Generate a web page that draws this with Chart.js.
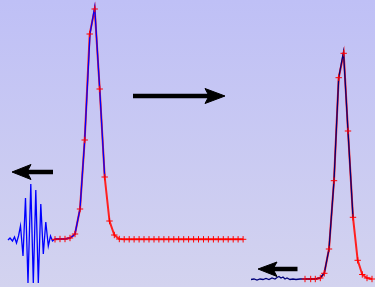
<!DOCTYPE html>
<html>
<head>
    <meta charset="UTF-8">
    <title>Wave packet</title>
    <script src="https://cdn.jsdelivr.net/npm/chart.js"></script>
    <style>
        body { margin: 0; }
        canvas { display: block; }
    </style>
</head>
<body>
    <canvas id="waveChart" width="375" height="287"></canvas>

    <script>
        // left pulse (sampled, red crosses)
        const leftX = [55, 60, 65, 70, 75, 80, 84.7, 89.7, 94.7, 99.7, 104.7, 109.5, 114.3, 119.3, 124.2, 129.2, 134.1,
            139.1, 144, 149, 154, 158.9, 163.9, 168.8, 173.8, 178.7, 183.7, 188.6, 193.6, 198.5, 203.5, 208.4,
            213.4, 218.3, 223.3, 228.2, 233.2, 238.1, 243.1];
        const leftY = [239.3, 239, 239, 238, 234, 209, 140, 34, 9, 89, 177, 221, 235, 239, 239.3, 239.3, 239.3,
            239.3, 239.3, 239.3, 239.3, 239.3, 239.3, 239.3, 239.3, 239.3, 239.3, 239.3, 239.3, 239.3, 239.3, 239.3,
            239.3, 239.3, 239.3, 239.3, 239.3, 239.3, 239.3];

        // left wave packet + pulse (blue)
        const waveX = [8, 10, 12.5, 14.5, 16.5, 18.5, 20.5, 23, 25.5, 28, 30.8, 33.3, 35.8, 38.3, 40.8, 43.3, 45.8,
            48.3, 50.5, 52.5, 55, 60, 65, 70, 73, 75, 80, 84.7, 90, 94.7, 99.7, 104.7];
        const waveY = [240, 238, 241, 237, 243, 236, 226, 256, 198, 283, 184, 283, 190, 283, 204, 254, 222,
            246, 236, 241, 239, 239, 239, 238, 236, 234, 209, 140, 34, 7, 89, 177];

        // right pulse (sampled, red crosses)
        const rightX = [305, 310.7, 315.3, 320.3, 324.3, 329, 334, 338.7, 343.7, 348, 353, 357.7, 362.3, 367, 372];
        const rightY = [279, 279, 279, 278, 273.3, 249, 180.7, 77.7, 53.3, 131, 217.3, 260.3, 274.5, 278, 279];

        // right noisy tail + pulse (navy)
        const noiseX = [251, 254, 257, 260, 263, 266, 269, 272, 275, 277, 279, 281, 283, 285, 287, 290, 293, 296,
            300, 305, 310.7, 315.3, 320.3, 324.3, 329, 334, 338.7, 343.5, 348, 353];
        const noiseY = [279.5, 279, 280, 279, 279.5, 278.5, 279.5, 278, 279, 277.5, 276.5, 278, 277, 279, 278,
            279.5, 279, 279.5, 279, 279, 279, 279, 278, 273, 249, 180.7, 77.7, 52, 131, 217.3];

        // arrows: shaft ends and head outlines
        const arrowShafts = [
            [[27, 172], [53, 172]],
            [[133, 96], [210, 96]],
            [[273, 269], [297.5, 269]]
        ];
        const arrowHeads = [
            [[12, 172], [31, 164.5], [27, 172], [31, 179.5], [12, 172]],
            [[225, 96], [205, 88.5], [209, 96], [205, 103.5], [225, 96]],
            [[258, 269], [277, 262], [273, 269], [277, 276.5], [258, 269]]
        ];

        function pts(xs, ys) {
            return xs.map((x, i) => ({ x: x, y: ys[i] }));
        }

        const background = {
            id: "background",
            beforeDraw(chart) {
                const c = chart.ctx;
                const g = c.createLinearGradient(0, 0, 0, chart.height);
                g.addColorStop(0, "#bfc0f6");
                g.addColorStop(1, "#d3d3ef");
                c.save();
                c.fillStyle = g;
                c.fillRect(0, 0, chart.width, chart.height);
                c.restore();
            }
        };

        const datasets = [
            { data: pts(leftX, leftY), borderColor: "#ff2020", borderWidth: 2, showLine: true, pointRadius: 0, order: 5 },
            { data: pts(rightX, rightY), borderColor: "#ff2020", borderWidth: 2, showLine: true, pointRadius: 0, order: 5 },
            { data: pts(waveX, waveY), borderColor: "#0000ff", borderWidth: 1.3, showLine: true, pointRadius: 0, order: 4 },
            { data: pts(noiseX, noiseY), borderColor: "#00007a", borderWidth: 1.3, showLine: true, pointRadius: 0, order: 4 },
            { data: pts(leftX, leftY), showLine: false, pointStyle: "cross", pointRadius: 3.2, borderColor: "#ff0000", borderWidth: 1, order: 3 },
            { data: pts(rightX, rightY), showLine: false, pointStyle: "cross", pointRadius: 3.2, borderColor: "#ff0000", borderWidth: 1, order: 3 }
        ];

        arrowShafts.forEach(s => {
            datasets.push({ data: s.map(p => ({ x: p[0], y: p[1] })), borderColor: "#000", borderWidth: 4.5,
                showLine: true, pointRadius: 0, order: 1 });
        });
        arrowHeads.forEach(h => {
            datasets.push({ data: h.map(p => ({ x: p[0], y: p[1] })), borderColor: "#000", borderWidth: 1,
                backgroundColor: "#000", fill: "shape", showLine: true, pointRadius: 0, order: 1 });
        });

        const ctx = document.getElementById("waveChart").getContext("2d");
        new Chart(ctx, {
            type: "scatter",
            data: { datasets: datasets },
            options: {
                responsive: false,
                animation: false,
                layout: { padding: 0, autoPadding: false },
                plugins: { legend: { display: false }, tooltip: { enabled: false } },
                scales: {
                    x: { type: "linear", min: 0, max: 375, display: false },
                    y: { type: "linear", min: 0, max: 287, reverse: true, display: false }
                }
            },
            plugins: [background]
        });
    </script>
</body>
</html>
